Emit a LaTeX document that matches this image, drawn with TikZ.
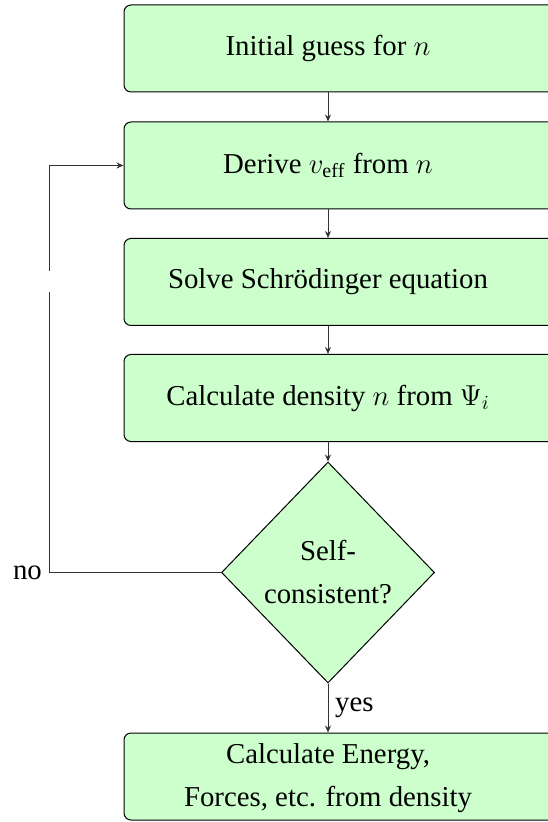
\documentclass[tikz,border=0pt]{standalone}
\usepackage{fontspec}
\setmainfont{LiberationSerif}[Extension=.ttf, UprightFont=*-Regular, BoldFont=*-Bold, ItalicFont=*-Italic, BoldItalicFont=*-BoldItalic]
\usetikzlibrary{shapes.geometric,arrows.meta}
\definecolor{boxgreen}{RGB}{204,255,204}
\begin{document}
\begin{tikzpicture}[x=0.5pt,y=-0.5pt,
  every node/.style={font=\rmfamily\fontsize{14.4}{21.5}\selectfont},
  stepbox/.style={draw=black, fill=boxgreen, rounded corners=3.5pt, minimum width=228pt, minimum height=43.5pt, inner sep=0pt, line width=0.5pt},
  decision/.style={diamond, draw=black, fill=boxgreen, minimum width=106.5pt, minimum height=110.5pt, inner sep=0pt, align=center, line width=0.5pt},
  conn/.style={line width=0.5pt, draw=black!80},
  arr/.style={conn, -{Stealth[length=3.5pt,width=3pt]}}]
\useasboundingbox (0,0) rectangle (547,822);
\node[stepbox] (b1) at (352,48.5) {Initial guess for $n$\hspace*{24pt}};
\node[stepbox] (b2) at (352,165.5) {Derive $v_{\mathrm{eff}}$ from $n$\hspace*{24pt}};
\node[stepbox] (b3) at (352,282) {Solve Schrödinger equation\hspace*{24pt}};
\node[stepbox] (b4) at (352,398) {Calculate density $n$ from $\Psi_i$\hspace*{24pt}};
\node[decision] (dia) at (328,572.5) {Self-\\consistent?};
\node[stepbox] (fin) at (352,776.5) {\begin{tabular}{@{}c@{}}Calculate Energy,\\Forces, etc. from density\end{tabular}\hspace*{24pt}};
\draw[arr] (b1.south -| dia.north) -- (b2.north -| dia.north);
\draw[arr] (b2.south -| dia.north) -- (b3.north -| dia.north);
\draw[arr] (b3.south -| dia.north) -- (b4.north -| dia.north);
\draw[arr] (b4.south -| dia.north) -- (dia.north);
\draw[arr] (dia.south) -- node[right] (yeslabel) {yes} (fin.north -| dia.south);
\coordinate (nocorner) at (49,572.5);
\coordinate (gapbot) at (49,292);
\coordinate (gaptop) at (49,271);
\draw[conn] (dia.west) -- (nocorner) node[left] (nolabel) {no} -- (gapbot);
\draw[arr] (gaptop) |- (b2.west);
\end{tikzpicture}
\end{document}
